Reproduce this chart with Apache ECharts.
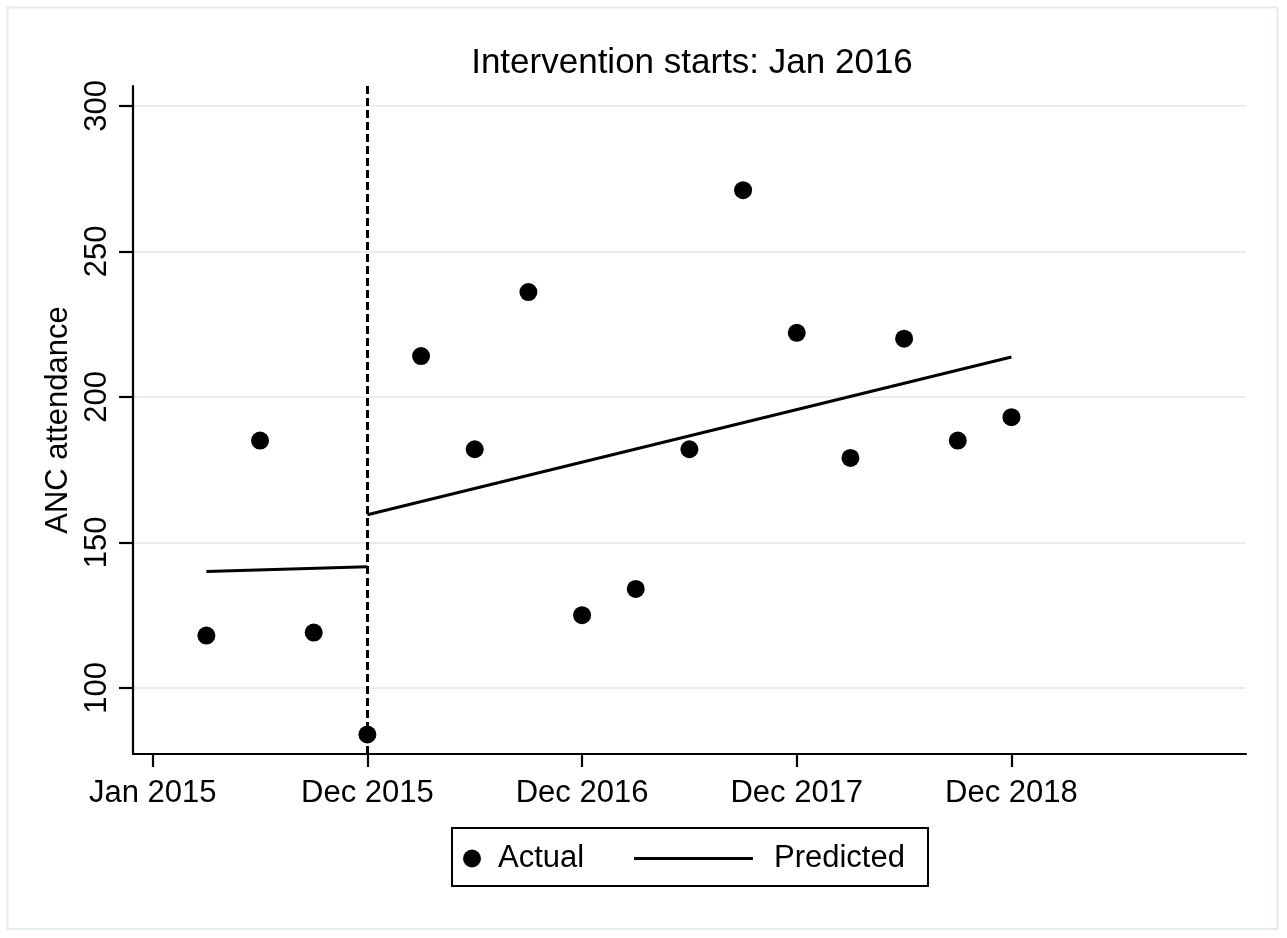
<!DOCTYPE html>
<html>
<head>
<meta charset="utf-8">
<script src="https://cdn.jsdelivr.net/npm/echarts@6/dist/echarts.min.js"></script>
<style>
html,body{margin:0;padding:0;background:#fff;}
#chart{width:1287px;height:938px;}
</style>
</head>
<body>
<div id="chart"></div>
<script>
// Quarter index (0 = Jan 2015 tick)
const quarters = [1,2,3,4,5,6,7,8,9,10,11,12,13,14,15,16];
const actual = [118,185,119,84,214,182,236,125,134,182,271,222,179,220,185,193];
// Predicted segments (endpoints)
const predictedPre = [[1,140.0],[4,141.6]];
const predictedPost = [[4,159.5],[16,213.7]];
const xTickValues = [0,4,8,12,16];
const xTickLabels = ['Jan 2015','Dec 2015','Dec 2016','Dec 2017','Dec 2018'];
const yTickValues = [100,150,200,250,300];
const interventionAt = 4;

const FONT = 'Liberation Sans, Arial, Helvetica, sans-serif';

const actualData = quarters.map((q,i)=>[q, actual[i]]);
const predictedData = predictedPre.concat([[interventionAt,'-']], predictedPost);

const chart = echarts.init(document.getElementById('chart'));
chart.setOption({
  backgroundColor:'#ffffff',
  animation:false,
  textStyle:{fontFamily:FONT},
  title:{
    text:'Intervention starts: Jan 2016',
    left:687, top:41, textAlign:'center',
    textStyle:{fontFamily:FONT, fontSize:35, fontWeight:'normal', color:'#000'}
  },
  grid:{left:133, right:41, top:86, bottom:184, containLabel:false},
  xAxis:{
    type:'value', min:-0.367, max:20.37,
    axisLine:{show:true, onZero:false, lineStyle:{color:'#000', width:2.2}},
    axisTick:{show:true, length:13, lineStyle:{color:'#000', width:2.2}, customValues:xTickValues},
    axisLabel:{show:true, margin:24, fontSize:31, color:'#000', fontFamily:FONT,
      customValues:xTickValues,
      formatter:function(v){ const i = xTickValues.indexOf(Math.round(v)); return i>=0 ? xTickLabels[i] : ''; }},
    splitLine:{show:false}
  },
  yAxis:{
    type:'value', min:77.3, max:306.8,
    name:'ANC attendance', nameLocation:'middle', nameGap:55,
    nameTextStyle:{fontSize:31, color:'#000', fontFamily:FONT},
    axisLine:{show:true, onZero:false, lineStyle:{color:'#000', width:2.2}},
    axisTick:{show:true, length:14, lineStyle:{color:'#000', width:2.2}, customValues:yTickValues},
    axisLabel:{show:true, rotate:90, margin:20, fontSize:31, color:'#000', fontFamily:FONT, customValues:yTickValues},
    splitLine:{show:true, lineStyle:{color:'#e6eef1', width:2}}
  },
  legend:[
    {data:[{name:'Actual', icon:'circle'}], orient:'horizontal', left:463, top:843, padding:0,
     itemWidth:42, itemHeight:18, selectedMode:false,
     textStyle:{fontSize:31, color:'#000', fontFamily:FONT}},
    {data:[{name:'Predicted', icon:'rect'}], orient:'horizontal', left:634, top:843, padding:0,
     itemWidth:119, itemHeight:2.8, selectedMode:false,
     textStyle:{fontSize:31, color:'#000', fontFamily:FONT, padding:[0,0,0,16]}}
  ],
  graphic:[
    {type:'rect', silent:true, z:-1, shape:{x:7.5, y:7.5, width:1270, height:921.5},
     style:{fill:'none', stroke:'#e3ecef', lineWidth:2}},
    {type:'rect', silent:true, shape:{x:452, y:828, width:476, height:58},
     style:{fill:'none', stroke:'#000', lineWidth:2}}
  ],
  series:[
    {
      name:'Actual', type:'scatter', data:actualData, symbol:'circle', symbolSize:18,
      itemStyle:{color:'#000', opacity:1}, z:3,
      markLine:{
        silent:true, symbol:['none','none'], label:{show:false},
        lineStyle:{color:'#000', width:3, type:[8,4], opacity:1},
        data:[{xAxis:interventionAt}]
      }
    },
    {
      name:'Predicted', type:'line', data:predictedData, symbol:'none', showSymbol:false,
      connectNulls:false, lineStyle:{color:'#000', width:3}, itemStyle:{color:'#000'}, z:2
    }
  ]
});
</script>
</body>
</html>
